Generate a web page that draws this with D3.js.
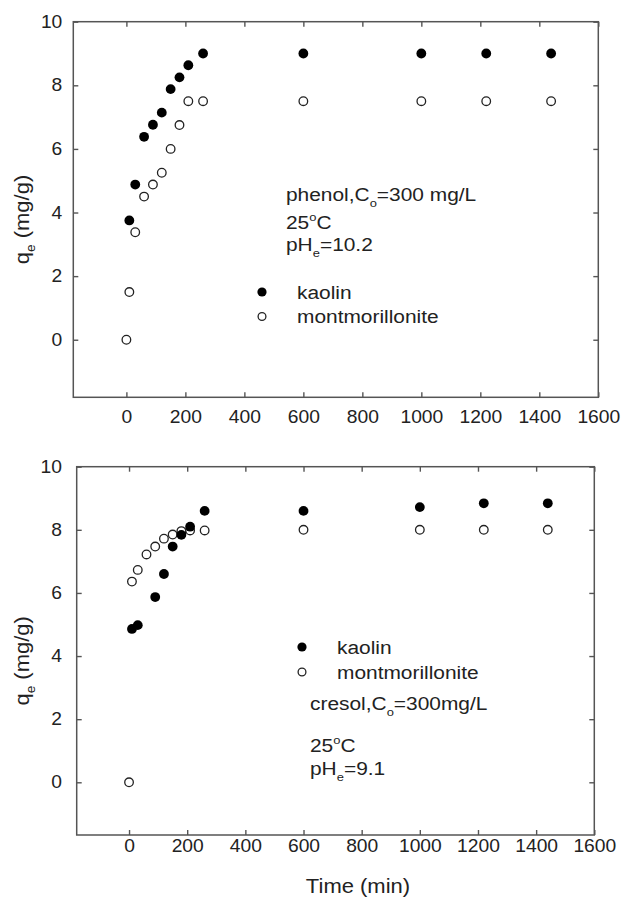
<!DOCTYPE html>
<html lang="en">
<head>
    <meta charset="UTF-8">
    <title>Adsorption kinetics of phenol and cresol</title>
    <script src="https://d3js.org/d3.v7.min.js" charset="utf-8"></script>
    <style>
        body { margin: 0; background: #fff; }
        svg { display: block; }
        text { font-family: "Liberation Sans", Arial, Helvetica, sans-serif; fill: #222; }
    </style>
</head>
<body>
    <div id="chart"></div>
    <script>
        // values
        var xTicks = [0, 200, 400, 600, 800, 1000, 1200, 1400, 1600];
        var yTicks = [0, 2, 4, 6, 8, 10];

        // phenol panel
        var tPhenolKaolin = [10, 30, 60, 90, 120, 150, 180, 210, 260, 600, 1000, 1220, 1440];
        var qPhenolKaolin = [3.75, 4.88, 6.38, 6.76, 7.14, 7.88, 8.25, 8.63, 9.0, 9.0, 9.0, 9.0, 9.0];
        var tPhenolMont = [0, 10, 30, 60, 90, 120, 150, 180, 210, 260, 600, 1000, 1220, 1440];
        var qPhenolMont = [0, 1.5, 3.38, 4.5, 4.88, 5.25, 6.0, 6.75, 7.5, 7.5, 7.5, 7.5, 7.5, 7.5];

        // cresol panel
        var tCresolKaolin = [10, 30, 90, 120, 150, 180, 210, 260, 600, 1000, 1220, 1440];
        var qCresolKaolin = [4.86, 4.98, 5.87, 6.6, 7.47, 7.84, 8.1, 8.6, 8.6, 8.72, 8.84, 8.84];
        var tCresolMont = [0, 10, 30, 60, 90, 120, 150, 180, 210, 260, 600, 1000, 1220, 1440];
        var qCresolMont = [0, 6.36, 6.73, 7.22, 7.47, 7.72, 7.85, 7.96, 7.98, 7.98, 8.0, 8.0, 8.0, 8.0];

        var seriesNames = ['kaolin', 'montmorillonite'];

        var svgWidth = 621;
        var svgHeight = 898;
        var stretch = 1.1;   // the source lettering is a little wider than Arial

        var svg = d3.select('#chart')
                    .append('svg')
                    .attr('width', svgWidth)
                    .attr('height', svgHeight);

        // text made of pieces: {t: '...', sub: true} / {t: '...', sup: true}
        function richText(parent, x, y, parts, size, anchor, rotate) {
            var g = parent.append('g')
                .attr('transform', 'translate(' + x + ',' + y + ')' + (rotate ? ' rotate(' + rotate + ')' : '') + ' scale(' + stretch + ',1)');
            var t = g.append('text')
                .attr('font-size', size)
                .attr('text-anchor', anchor || 'start');
            var shift = 0;
            parts.forEach(function(p) {
                var target = p.sub ? 0.3 * size : (p.sup ? -0.4 * size : 0);
                t.append('tspan')
                    .attr('dy', target - shift)
                    .attr('font-size', (p.sub || p.sup) ? size * 0.62 : size)
                    .text(p.t);
                shift = target;
            });
            return g;
        }

        function drawPanel(p) {
            var x = d3.scaleLinear().domain([-180, 1600]).range([p.left, p.right]);
            var y = d3.scaleLinear().domain([p.yMin, 10]).range([p.bottom, p.top]);
            var g = svg.append('g');

            // ticks, all pointing inward
            function styleAxis(sel) {
                sel.select('.domain').remove();
                sel.selectAll('.tick line').attr('stroke', '#555').attr('stroke-width', 1.4);
                sel.selectAll('.tick text').attr('font-size', 17.5).attr('fill', '#222')
                    .attr('font-family', '"Liberation Sans", Arial, sans-serif');
            }

            g.append('g')
                .attr('transform', 'translate(0,' + p.bottom + ')')
                .call(d3.axisBottom(x).tickValues(xTicks).tickFormat(d3.format('d'))
                    .tickSizeInner(-5).tickSizeOuter(0).tickPadding(p.xPad))
                .call(styleAxis)
                .selectAll('.tick text').attr('transform', 'scale(' + stretch + ',1)');

            g.append('g')
                .attr('transform', 'translate(0,' + p.top + ')')
                .call(d3.axisTop(x).tickValues(xTicks).tickSizeInner(-5).tickSizeOuter(0).tickFormat(''))
                .call(styleAxis);

            g.append('g')
                .attr('transform', 'translate(' + p.left + ',0)')
                .call(d3.axisLeft(y).tickValues(yTicks).tickFormat(d3.format('d'))
                    .tickSizeInner(-5).tickSizeOuter(0).tickPadding(p.yPad))
                .call(styleAxis)
                .selectAll('.tick text').attr('transform', 'scale(' + stretch + ',1)');

            g.append('g')
                .attr('transform', 'translate(' + p.right + ',0)')
                .call(d3.axisRight(y).tickValues(yTicks).tickSizeInner(-5).tickSizeOuter(0).tickFormat(''))
                .call(styleAxis);

            // frame
            g.append('rect')
                .attr('x', p.left).attr('y', p.top)
                .attr('width', p.right - p.left).attr('height', p.bottom - p.top)
                .attr('fill', 'none').attr('stroke', '#555').attr('stroke-width', 1.5);

            // points
            var kaolin = p.tK.map(function(t, i) { return {t: t, q: p.qK[i]}; });
            var mont = p.tM.map(function(t, i) { return {t: t, q: p.qM[i]}; });

            g.selectAll('.mont').data(mont).enter().append('circle')
                .attr('class', 'mont')
                .attr('cx', d => x(d.t)).attr('cy', d => y(d.q)).attr('r', 4.3)
                .attr('fill', '#fff').attr('stroke', '#222').attr('stroke-width', 1.3);

            g.selectAll('.kaolin').data(kaolin).enter().append('circle')
                .attr('class', 'kaolin')
                .attr('cx', d => x(d.t)).attr('cy', d => y(d.q)).attr('r', 4.9)
                .attr('fill', '#000');

            // legend
            var lg = g.append('g');
            seriesNames.forEach(function(name, i) {
                var cy = p.legY + i * p.legStep;
                if (i === 0) {
                    lg.append('circle').attr('cx', p.legX).attr('cy', cy).attr('r', 4.6).attr('fill', '#000');
                } else {
                    lg.append('circle').attr('cx', p.legX).attr('cy', cy).attr('r', 3.9)
                        .attr('fill', '#fff').attr('stroke', '#222').attr('stroke-width', 1.3);
                }
                richText(lg, p.legX + 35, cy + 6.5, [{t: name}], 19, 'start');
            });

            // conditions
            p.notes.forEach(function(n) {
                richText(g, p.noteX, n.y, n.parts, 19, 'start');
            });

            // y title
            richText(g, 29, (p.top + p.bottom) / 2 + 10, [{t: 'q'}, {t: 'e', sub: true}, {t: '  (mg/g)'}], 20, 'middle', -90);
        }

        drawPanel({
            left: 73.3, right: 598.3, top: 21.7, bottom: 397.3, yMin: -1.81,
            xPad: 13, yPad: 10,
            tK: tPhenolKaolin, qK: qPhenolKaolin, tM: tPhenolMont, qM: qPhenolMont,
            legX: 262, legY: 292, legStep: 24.5,
            noteX: 286,
            notes: [
                {y: 201, parts: [{t: 'phenol,C'}, {t: 'o', sub: true}, {t: '=300 mg/L'}]},
                {y: 229, parts: [{t: '25'}, {t: 'o', sup: true}, {t: 'C'}]},
                {y: 251, parts: [{t: 'pH'}, {t: 'e', sub: true}, {t: '=10.2'}]}
            ]
        });

        drawPanel({
            left: 76.7, right: 594.3, top: 466.7, bottom: 835, yMin: -1.67,
            xPad: 5, yPad: 13.5,
            tK: tCresolKaolin, qK: qCresolKaolin, tM: tCresolMont, qM: qCresolMont,
            legX: 302, legY: 647, legStep: 25,
            noteX: 310,
            notes: [
                {y: 710, parts: [{t: 'cresol,C'}, {t: 'o', sub: true}, {t: '=300mg/L'}]},
                {y: 752, parts: [{t: '25'}, {t: 'o', sup: true}, {t: 'C'}]},
                {y: 775, parts: [{t: 'pH'}, {t: 'e', sub: true}, {t: '=9.1'}]}
            ]
        });

        // x title
        richText(svg, 358, 893, [{t: 'Time (min)'}], 20, 'middle');
    </script>
</body>
</html>
